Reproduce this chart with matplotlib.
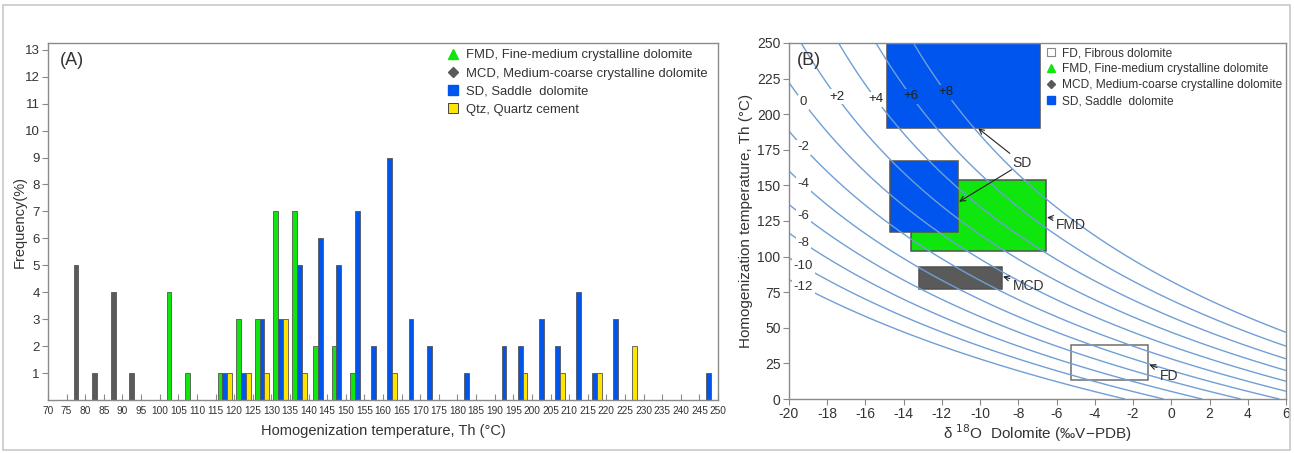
import numpy as np
import matplotlib
matplotlib.use("Agg")
import matplotlib.pyplot as plt
from matplotlib.lines import Line2D
from matplotlib.patches import Rectangle

plt.rcParams['font.family'] = ['Liberation Sans', 'DejaVu Sans']
plt.rcParams['axes.unicode_minus'] = False
plt.rcParams['contour.negative_linestyle'] = 'solid'

# ---------------- Panel A data: frequency (%) per 5 degC bin ----------------
bin_lower = list(range(70, 250, 5))          # 70, 75, ..., 245
#            70 75 80 85 90 95 100 105 110 115 120 125 130 135 140 145 150 155 160 165 170 175 180 185 190 195 200 205 210 215 220 225 230 235 240 245
mcd_freq = [0, 5, 1, 4, 1, 0, 0,  0,  0,  0,  0,  0,  0,  0,  0,  0,  0,  0,  0,  0,  0,  0,  0,  0,  0,  0,  0,  0,  0,  0,  0,  0,  0,  0,  0,  0]
fmd_freq = [0, 0, 0, 0, 0, 0, 4,  1,  0,  1,  3,  3,  7,  7,  2,  2,  1,  0,  0,  0,  0,  0,  0,  0,  0,  0,  0,  0,  0,  0,  0,  0,  0,  0,  0,  0]
sd_freq  = [0, 0, 0, 0, 0, 0, 0,  0,  0,  1,  1,  3,  3,  5,  6,  5,  7,  2,  9,  3,  2,  0,  1,  0,  2,  2,  3,  2,  4,  1,  3,  0,  0,  0,  0,  1]
qtz_freq = [0, 0, 0, 0, 0, 0, 0,  0,  0,  1,  1,  1,  3,  1,  0,  0,  0,  0,  1,  0,  0,  0,  0,  0,  0,  1,  0,  1,  0,  1,  0,  2,  0,  0,  0,  0]

series_names = ['MCD', 'FMD', 'SD', 'Qtz']
series_colors = ['#5a5a5a', '#0ee60e', '#0055ee', '#ffe400']
legend_a_labels = ['FMD, Fine-medium crystalline dolomite',
                   'MCD, Medium-coarse crystalline dolomite',
                   'SD, Saddle  dolomite',
                   'Qtz, Quartz cement']

# ---------------- Panel B data ----------------
water_d18o = [-12, -10, -8, -6, -4, -2, 0, 2, 4, 6, 8]     # per mil VSMOW, isolines
left_label_levels = [0, -2, -4, -6, -8, -10, -12]
top_label_levels = [2, 4, 6, 8]
top_label_x = [-17.5, -15.45, -13.6, -11.8]

# dolomite-water fractionation: 1000 ln(alpha) = A / T^2 - C
frac_A = 3.2e6
frac_C = 2.8

box_names = ['FMD', 'SD', 'SD', 'MCD', 'FD']
box_x_min = [-13.6, -14.85, -14.7, -13.2, -5.25]
box_x_max = [-6.55, -6.85, -11.15, -8.85, -1.2]
box_t_min = [104, 190, 117, 77.5, 13]
box_t_max = [154, 260, 167, 93, 38]
box_colors = {'FMD': '#0ee60e', 'SD': '#0055ee', 'MCD': '#5a5a5a', 'FD': 'white'}

legend_b_labels = ['FD, Fibrous dolomite',
                   'FMD, Fine-medium crystalline dolomite',
                   'MCD, Medium-coarse crystalline dolomite',
                   'SD, Saddle  dolomite']

# ---------------- Figure ----------------
fig = plt.figure(figsize=(12.94, 4.53), dpi=100)
fig.patches.append(Rectangle((0.002, 0.006), 0.995, 0.983, transform=fig.transFigure,
                             fill=False, edgecolor='#c8c8c8', lw=1.2))

spine_col = '#8a8a8a'
txt_col = '#333333'

# ---------------- Panel A ----------------
axA = fig.add_axes([0.0371, 0.117, 0.5178, 0.788])
bar_w = 1.3
all_series = [mcd_freq, fmd_freq, sd_freq, qtz_freq]
for i, lo in enumerate(bin_lower):
    center = lo + 2.5
    present = [k for k in range(4) if all_series[k][i] > 0]
    n = len(present)
    for j, k in enumerate(present):
        xpos = center + (j - (n - 1) / 2) * bar_w
        axA.bar(xpos, all_series[k][i], width=bar_w, color=series_colors[k],
                edgecolor='#555555', linewidth=0.6, zorder=2)

axA.set_xlim(70, 250)
axA.set_ylim(0, 13.25)
axA.set_xticks(list(range(70, 251, 5)))
axA.set_xticklabels([str(v) for v in range(70, 251, 5)], fontsize=7.3, color=txt_col)
axA.tick_params(axis='x', direction='in', length=4, color=spine_col, pad=4)
axA.set_yticks(list(range(1, 14)))
axA.set_yticklabels([str(v) for v in range(1, 14)], fontsize=9.5, color=txt_col)
axA.tick_params(axis='y', direction='out', length=4, color=spine_col, pad=2)
for sp in axA.spines.values():
    sp.set_color(spine_col)
    sp.set_linewidth(1.0)
axA.set_xlabel('Homogenization temperature, Th (°C)', fontsize=10.5, color=txt_col, labelpad=6)
axA.set_ylabel('Frequency(%)', fontsize=10.5, color=txt_col)
axA.yaxis.set_label_coords(-0.031, 0.5)
axA.text(0.018, 0.95, '(A)', transform=axA.transAxes, fontsize=13, color=txt_col, va='center')

handles_a = [
    Line2D([], [], ls='none', marker='^', ms=7, mfc=series_colors[1], mec=series_colors[1]),
    Line2D([], [], ls='none', marker='D', ms=5, mfc=series_colors[0], mec=series_colors[0]),
    Line2D([], [], ls='none', marker='s', ms=7, mfc=series_colors[2], mec=series_colors[2]),
    Line2D([], [], ls='none', marker='s', ms=7, mfc=series_colors[3], mec='#444444', mew=0.7),
]
axA.legend(handles_a, legend_a_labels, loc='upper left', bbox_to_anchor=(0.581, 1.008),
           frameon=False, fontsize=9.4, handlelength=1.0, handletextpad=0.5,
           labelspacing=0.46, borderaxespad=0.3, labelcolor=txt_col)

# ---------------- Panel B ----------------
axB = fig.add_axes([0.6097, 0.1192, 0.3841, 0.786])


def dol_smow(x_vpdb):
    return 1.03091 * np.asarray(x_vpdb) + 30.91


def water_from(x_vpdb, t_c):
    tk = np.asarray(t_c) + 273.15
    alpha = np.exp((frac_A / tk ** 2 - frac_C) / 1000.0)
    return (1000.0 + dol_smow(x_vpdb)) / alpha - 1000.0


def temp_on_line(x_vpdb, w):
    la = 1000.0 * np.log((1000.0 + dol_smow(x_vpdb)) / (1000.0 + w))
    return np.sqrt(frac_A / (la + frac_C)) - 273.15


for name, x0, x1, t0, t1 in zip(box_names, box_x_min, box_x_max, box_t_min, box_t_max):
    ec = '#6e6e6e' if name == 'FD' else '#505050'
    axB.add_patch(Rectangle((x0, t0), x1 - x0, t1 - t0, facecolor=box_colors[name],
                            edgecolor=ec, lw=1.1, zorder=1))

gx = np.linspace(-20, 6, 500)
gt = np.linspace(0.01, 250, 500)
GX, GT = np.meshgrid(gx, gt)
W = water_from(GX, GT)
axB.contour(GX, GT, W, levels=water_d18o, colors='#6f9fd6', linewidths=1.0,
            linestyles='solid', zorder=2)

for w in left_label_levels:
    xl = -19.25
    axB.text(xl, temp_on_line(xl, w), f'{w:d}', fontsize=9.5, color=txt_col,
             ha='center', va='center', zorder=3,
             bbox=dict(boxstyle='square,pad=0.12', fc='white', ec='none'))
for w, xl in zip(top_label_levels, top_label_x):
    inside = any(a <= xl <= b and c <= temp_on_line(xl, w) <= d
                 for a, b, c, d in zip(box_x_min, box_x_max, box_t_min, box_t_max))
    fc = box_colors['SD'] if inside else 'white'
    axB.text(xl, temp_on_line(xl, w), f'+{w:d}', fontsize=9.5, color='#222222',
             ha='center', va='center', zorder=3,
             bbox=dict(boxstyle='square,pad=0.12', fc=fc, ec='none'))

arrow_kw = dict(arrowstyle='->', color='#222222', lw=0.8, mutation_scale=9,
                shrinkA=0, shrinkB=0)
axB.annotate('SD', xy=(-10.1, 190), xytext=(-8.3, 166), fontsize=10, color=txt_col,
             ha='left', va='center', arrowprops=dict(relpos=(0, 1), **arrow_kw), zorder=4)
axB.annotate('', xy=(-11.1, 138.5), xytext=(-8.35, 161),
             arrowprops=dict(**arrow_kw), zorder=4)
axB.annotate('FMD', xy=(-6.5, 127.5), xytext=(-6.05, 122), fontsize=10, color=txt_col,
             ha='left', va='center', arrowprops=dict(relpos=(0, 1), **arrow_kw), zorder=4)
axB.annotate('MCD', xy=(-8.8, 86), xytext=(-8.3, 79), fontsize=10, color=txt_col,
             ha='left', va='center', arrowprops=dict(relpos=(0, 1), **arrow_kw), zorder=4)
axB.annotate('FD', xy=(-1.15, 24), xytext=(-0.6, 16.5), fontsize=10, color=txt_col,
             ha='left', va='center', arrowprops=dict(relpos=(0, 1), **arrow_kw), zorder=4)

axB.set_xlim(-20, 6)
axB.set_ylim(0, 250)
axB.set_xticks(list(range(-20, 7, 2)))
axB.set_xticklabels([str(v) for v in range(-20, 7, 2)], fontsize=10, color=txt_col)
axB.set_yticks(list(range(0, 251, 25)))
axB.set_yticklabels([str(v) for v in range(0, 251, 25)], fontsize=10, color=txt_col)
axB.tick_params(direction='out', length=4, color=spine_col, pad=2)
for sp in axB.spines.values():
    sp.set_color(spine_col)
    sp.set_linewidth(1.0)
axB.set_ylabel('Homogenization temperature, Th (°C)', fontsize=11, color=txt_col, labelpad=3)
axB.set_xlabel('δ $^{18}$O  Dolomite (‰V−PDB)', fontsize=11, color=txt_col, labelpad=1)
axB.text(0.016, 0.952, '(B)', transform=axB.transAxes, fontsize=13, color=txt_col, va='center')

handles_b = [
    Line2D([], [], ls='none', marker='s', ms=6, mfc='white', mec='#888888', mew=0.8),
    Line2D([], [], ls='none', marker='^', ms=6, mfc=box_colors['FMD'], mec=box_colors['FMD']),
    Line2D([], [], ls='none', marker='D', ms=4.5, mfc=box_colors['MCD'], mec=box_colors['MCD']),
    Line2D([], [], ls='none', marker='s', ms=6, mfc=box_colors['SD'], mec=box_colors['SD']),
]
axB.legend(handles_b, legend_b_labels, loc='upper left', bbox_to_anchor=(0.503, 1.008),
           frameon=False, fontsize=8.6, handlelength=0.9, handletextpad=0.45,
           labelspacing=0.33, borderaxespad=0.2, labelcolor=txt_col)

fig.savefig('out.png', dpi=100, facecolor='white')
